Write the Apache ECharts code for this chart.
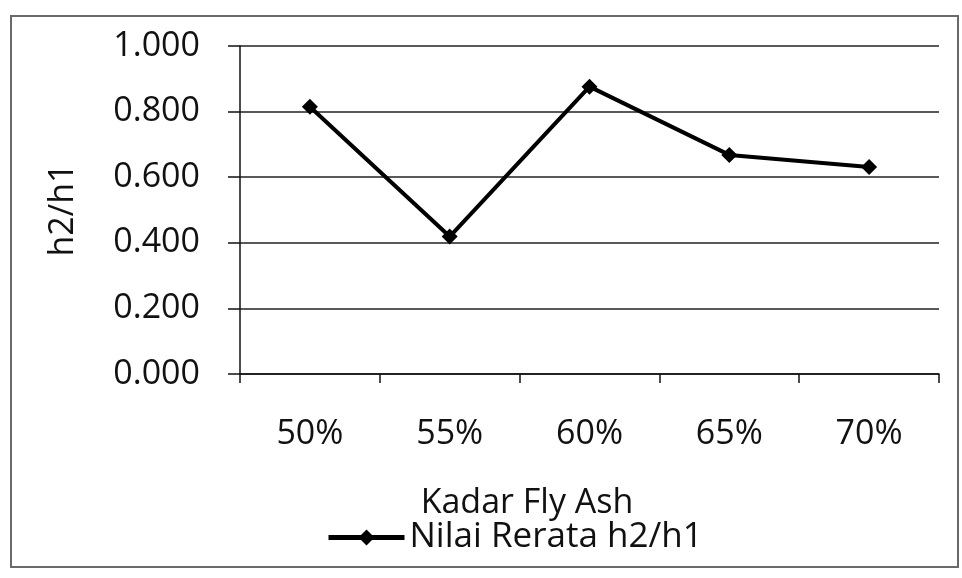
<!DOCTYPE html>
<html>
<head>
<meta charset="utf-8">
<script src="https://cdn.jsdelivr.net/npm/echarts@6/dist/echarts.min.js"></script>
<style>
  html, body { margin: 0; padding: 0; background: #fff; }
  #chart { width: 962px; height: 578px; }
</style>
</head>
<body>
<div id="chart"></div>
<script>
// data
const categories = ['50%', '55%', '60%', '65%', '70%']
const rerata = [0.815, 0.419, 0.876, 0.668, 0.631]
const seriesName = 'Nilai Rerata h2/h1'
const xName = 'Kadar Fly Ash'
const yName = 'h2/h1'

const font = 'Open Sans'
const myChart = echarts.init(document.getElementById('chart'))

const option = {
  backgroundColor: '#fff',
  animation: false,
  textStyle: { fontFamily: font },
  // outer chart frame
  graphic: [{
    type: 'rect',
    shape: { x: 11, y: 16, width: 947, height: 551 },
    style: { fill: 'none', stroke: '#6a6a6a', lineWidth: 2 },
    silent: true
  }],
  grid: {
    left: 240,
    right: 23,
    top: 46,
    bottom: 204
  },
  legend: {
    left: 321,
    top: 515,
    itemWidth: 76,
    itemHeight: 20,
    itemGap: 4,
    lineStyle: { width: 5 },
    textStyle: { fontFamily: font, fontSize: 35, color: '#111' },
    data: [seriesName]
  },
  xAxis: {
    type: 'category',
    data: categories,
    boundaryGap: true,
    name: xName,
    nameLocation: 'middle',
    nameGap: 112,
    nameTextStyle: { fontFamily: font, fontSize: 34, color: '#111', padding: [0, 125, 0, 0] },
    axisLine: { lineStyle: { color: '#111', width: 1.5 } },
    axisTick: { show: true, length: 9, lineStyle: { color: '#111', width: 1.5 } },
    axisLabel: { color: '#111', fontSize: 34, margin: 43 }
  },
  yAxis: {
    type: 'value',
    min: 0,
    max: 1,
    interval: 0.2,
    name: yName,
    nameLocation: 'middle',
    nameGap: 160,
    nameTextStyle: { fontFamily: font, fontSize: 34, color: '#111' },
    axisLine: { show: true, lineStyle: { color: '#111', width: 1.5 } },
    axisTick: { show: true, length: 12, lineStyle: { color: '#111', width: 1.5 } },
    axisLabel: {
      color: '#111',
      fontSize: 34,
      margin: 40,
      formatter: v => v.toFixed(3)
    },
    splitLine: { show: true, lineStyle: { color: '#222', width: 1.5 } }
  },
  series: [{
    name: seriesName,
    type: 'line',
    data: rerata,
    symbol: 'diamond',
    symbolSize: 16,
    itemStyle: { color: '#000' },
    lineStyle: { color: '#000', width: 4 }
  }]
}

myChart.setOption(option)
window.addEventListener('resize', () => myChart.resize())
</script>
</body>
</html>
